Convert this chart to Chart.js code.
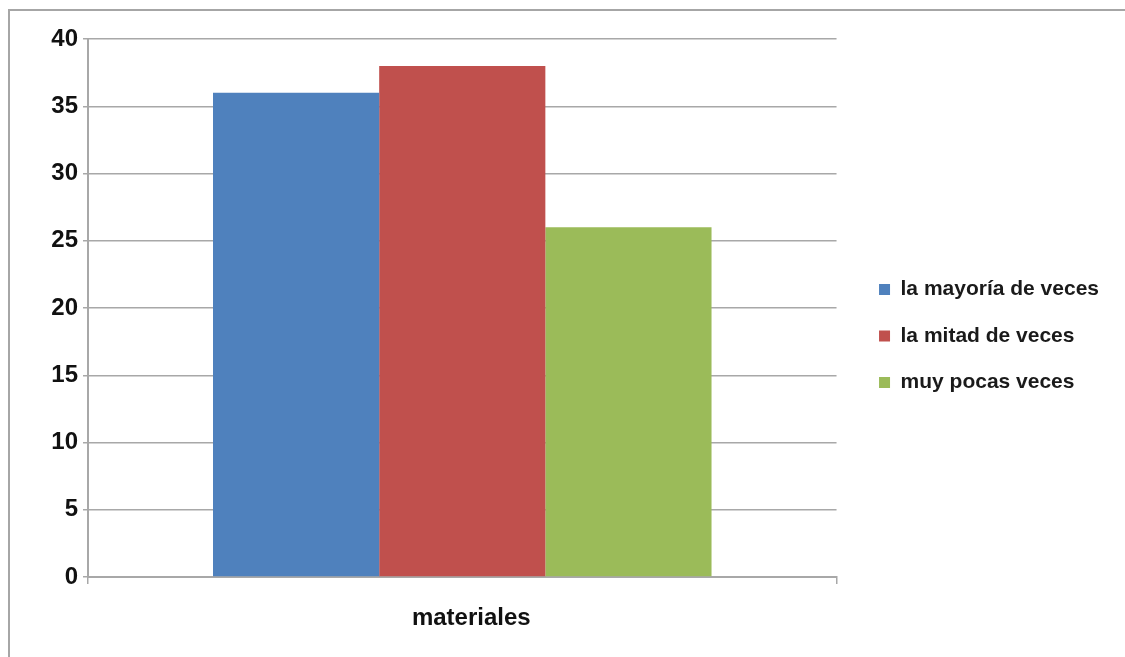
<!DOCTYPE html>
<html>
<head>
<meta charset="utf-8">
<script src="https://cdn.jsdelivr.net/npm/chart.js@4"></script>
<style>
  html, body { margin: 0; padding: 0; background: #fff; width: 1125px; height: 657px; overflow: hidden; }
  #frame { position: absolute; left: 8px; top: 9px; width: 1200px; height: 800px; border-left: 2px solid #a6a6a6; border-top: 2px solid #a6a6a6; }
  #wrap { position: absolute; left: 0; top: 0; width: 1125px; height: 657px; }
</style>
</head>
<body>
<div id="frame"></div>
<div id="wrap"><canvas id="c" width="1125" height="657"></canvas></div>
<script>
const categories = ["materiales"];
const seriesNames = ["la mayoría de veces", "la mitad de veces", "muy pocas veces"];
const seriesValues = [[36], [38], [26]];
const seriesColors = ["#4F81BD", "#C0504D", "#9BBB59"];
const yTicks = [0, 5, 10, 15, 20, 25, 30, 35, 40];

const gridColor = "#a8a8a8";

const legendShift = {
  id: "legendShift",
  afterLayout(chart) {
    const l = chart.legend;
    if (!l) return;
    l.left += 17; l.right += 17;
    l.top -= 5; l.bottom -= 5;
  }
};

new Chart(document.getElementById("c"), {
  type: "bar",
  data: {
    labels: categories,
    datasets: seriesNames.map((n, i) => ({
      label: n,
      data: seriesValues[i],
      backgroundColor: seriesColors[i],
      borderWidth: 0,
      barPercentage: 1.0,
      categoryPercentage: 0.666
    }))
  },
  plugins: [legendShift],
  options: {
    responsive: false,
    animation: false,
    devicePixelRatio: 1,
    layout: { padding: { left: 16, top: 39, right: 33, bottom: 14 } },
    plugins: {
      tooltip: { enabled: false },
      legend: {
        position: "right",
        labels: {
          boxWidth: 11,
          boxHeight: 11,
          padding: 25.5,
          color: "#1a1a1a",
          font: { family: "'Liberation Sans', Arial, sans-serif", size: 21, weight: "bold" }
        }
      }
    },
    scales: {
      x: {
        offset: true,
        grid: { offset: true, drawOnChartArea: false, drawTicks: true, tickLength: 7, color: gridColor, lineWidth: 1.5 },
        border: { color: gridColor, width: 2 },
        ticks: {
          padding: 20,
          labelOffset: 9,
          color: "#111",
          font: { family: "'Liberation Sans', Arial, sans-serif", size: 24, weight: "bold" }
        },
        afterFit: (s) => { s.height = 66; }
      },
      y: {
        min: 0, max: 40,
        afterBuildTicks: (s) => { s.ticks = yTicks.map(v => ({ value: v })); },
        grid: { color: gridColor, lineWidth: 1.5, tickLength: 5 },
        border: { color: gridColor, width: 2 },
        ticks: {
          padding: 5,
          color: "#111",
          font: { family: "'Liberation Sans', Arial, sans-serif", size: 24, weight: "bold" }
        },
        afterFit: (s) => { s.width = 72; }
      }
    }
  }
});
</script>
</body>
</html>
